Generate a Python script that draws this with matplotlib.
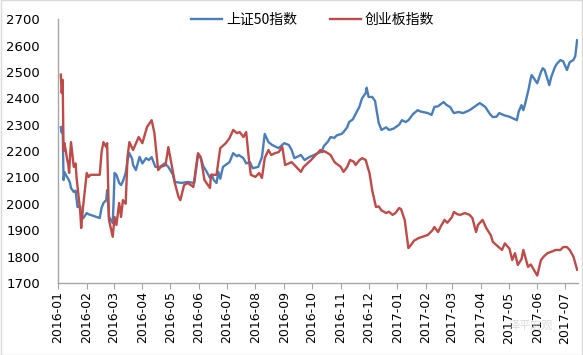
import matplotlib
matplotlib.use("Agg")
import matplotlib.pyplot as plt
import matplotlib.dates as mdates
import pandas as pd

plt.rcParams['font.family'] = ['Noto Sans CJK SC', 'DejaVu Sans']

# 上证50指数
sz50_dates = [
    "2016-01-04", "2016-01-05", "2016-01-06", "2016-01-07", "2016-01-08", "2016-01-11",
    "2016-01-12", "2016-01-14", "2016-01-15", "2016-01-18", "2016-01-20", "2016-01-22",
    "2016-01-25", "2016-01-26", "2016-01-28", "2016-02-01", "2016-02-03", "2016-02-05",
    "2016-02-15", "2016-02-17", "2016-02-19", "2016-02-22", "2016-02-23", "2016-02-25",
    "2016-02-29", "2016-03-01", "2016-03-02", "2016-03-04", "2016-03-07", "2016-03-09",
    "2016-03-11", "2016-03-14", "2016-03-16", "2016-03-18", "2016-03-21", "2016-03-22",
    "2016-03-25", "2016-03-29", "2016-04-01", "2016-04-05", "2016-04-08", "2016-04-11",
    "2016-04-15", "2016-04-20", "2016-04-25", "2016-04-29", "2016-05-04", "2016-05-06",
    "2016-05-13", "2016-05-20", "2016-05-27", "2016-05-31", "2016-06-03", "2016-06-06",
    "2016-06-08", "2016-06-13", "2016-06-15", "2016-06-17", "2016-06-20", "2016-06-22",
    "2016-06-24", "2016-06-27", "2016-07-01", "2016-07-04", "2016-07-08", "2016-07-12",
    "2016-07-14", "2016-07-19", "2016-07-22", "2016-07-26", "2016-07-29", "2016-08-04",
    "2016-08-08", "2016-08-11", "2016-08-15", "2016-08-19", "2016-08-26", "2016-09-01",
    "2016-09-06", "2016-09-09", "2016-09-12", "2016-09-19", "2016-09-23", "2016-09-28",
    "2016-10-10", "2016-10-12", "2016-10-14", "2016-10-18", "2016-10-21", "2016-10-25",
    "2016-10-28", "2016-11-02", "2016-11-04", "2016-11-08", "2016-11-10", "2016-11-14",
    "2016-11-17", "2016-11-21", "2016-11-24", "2016-11-28", "2016-11-29", "2016-12-01",
    "2016-12-05", "2016-12-08", "2016-12-12", "2016-12-15", "2016-12-20", "2016-12-23",
    "2016-12-28", "2017-01-03", "2017-01-06", "2017-01-10", "2017-01-13", "2017-01-18",
    "2017-01-23", "2017-01-26", "2017-02-03", "2017-02-07", "2017-02-10", "2017-02-14",
    "2017-02-20", "2017-02-23", "2017-02-27", "2017-03-03", "2017-03-08", "2017-03-13",
    "2017-03-20", "2017-03-24", "2017-03-31", "2017-04-06", "2017-04-11", "2017-04-14",
    "2017-04-18", "2017-04-21", "2017-04-26", "2017-05-02", "2017-05-05", "2017-05-10",
    "2017-05-12", "2017-05-15", "2017-05-17", "2017-05-19", "2017-05-23", "2017-05-25",
    "2017-05-26", "2017-06-01", "2017-06-05", "2017-06-07", "2017-06-09", "2017-06-14",
    "2017-06-16", "2017-06-20", "2017-06-22", "2017-06-26", "2017-06-29", "2017-07-03",
    "2017-07-06", "2017-07-10", "2017-07-12", "2017-07-14",
]
sz50_vals = [
    2290, 2270, 2295, 2090, 2120, 2100,
    2095, 2079, 2060, 2045, 2050, 1988,
    1990, 1950, 1945, 1965, 1960, 1958,
    1946, 1985, 2003, 2014, 2052, 1950,
    1927, 2010, 2117, 2110, 2079, 2071,
    2085, 2117, 2166, 2192, 2170, 2147,
    2128, 2178, 2153, 2173, 2166, 2177,
    2140, 2140, 2153, 2140, 2110, 2083,
    2079, 2083, 2079, 2185, 2173, 2140,
    2130, 2098, 2110, 2090, 2079, 2121,
    2095, 2140, 2150, 2158, 2192, 2180,
    2185, 2173, 2153, 2158, 2135, 2140,
    2177, 2265, 2234, 2223, 2211, 2230,
    2223, 2204, 2173, 2185, 2166, 2177,
    2196, 2204, 2220, 2235, 2253, 2250,
    2260, 2265, 2272, 2290, 2310, 2320,
    2340, 2367, 2400, 2420, 2440, 2405,
    2405, 2390, 2306, 2280, 2290, 2280,
    2285, 2300, 2317, 2310, 2317, 2340,
    2355, 2350, 2344, 2337, 2367, 2370,
    2386, 2375, 2367, 2344, 2348, 2344,
    2355, 2365, 2382, 2367, 2340, 2329,
    2330, 2344, 2336, 2330, 2325, 2317,
    2350, 2374, 2355, 2380, 2440, 2476,
    2488, 2457, 2500, 2514, 2507, 2450,
    2480, 2518, 2530, 2545, 2540, 2507,
    2537, 2545, 2560, 2620,
]

# 创业板指数
cyb_dates = [
    "2016-01-04", "2016-01-05", "2016-01-06", "2016-01-07", "2016-01-08", "2016-01-11",
    "2016-01-12", "2016-01-13", "2016-01-14", "2016-01-15", "2016-01-18", "2016-01-20",
    "2016-01-21", "2016-01-25", "2016-01-26", "2016-01-28", "2016-02-01", "2016-02-03",
    "2016-02-05", "2016-02-15", "2016-02-17", "2016-02-19", "2016-02-22", "2016-02-23",
    "2016-02-25", "2016-02-29", "2016-03-02", "2016-03-04", "2016-03-07", "2016-03-09",
    "2016-03-11", "2016-03-14", "2016-03-16", "2016-03-18", "2016-03-22", "2016-03-28",
    "2016-04-01", "2016-04-06", "2016-04-11", "2016-04-14", "2016-04-18", "2016-04-21",
    "2016-04-26", "2016-04-29", "2016-05-03", "2016-05-06", "2016-05-10", "2016-05-12",
    "2016-05-16", "2016-05-20", "2016-05-26", "2016-05-31", "2016-06-03", "2016-06-07",
    "2016-06-13", "2016-06-14", "2016-06-20", "2016-06-24", "2016-06-30", "2016-07-04",
    "2016-07-08", "2016-07-12", "2016-07-15", "2016-07-19", "2016-07-22", "2016-07-25",
    "2016-07-27", "2016-08-01", "2016-08-05", "2016-08-08", "2016-08-11", "2016-08-15",
    "2016-08-18", "2016-08-22", "2016-08-26", "2016-08-30", "2016-09-02", "2016-09-09",
    "2016-09-14", "2016-09-19", "2016-09-22", "2016-09-30", "2016-10-10", "2016-10-12",
    "2016-10-14", "2016-10-18", "2016-10-21", "2016-10-25", "2016-10-27", "2016-11-01",
    "2016-11-04", "2016-11-08", "2016-11-11", "2016-11-15", "2016-11-17", "2016-11-21",
    "2016-11-24", "2016-11-28", "2016-11-30", "2016-12-02", "2016-12-05", "2016-12-09",
    "2016-12-12", "2016-12-15", "2016-12-20", "2016-12-23", "2016-12-27", "2016-12-30",
    "2017-01-03", "2017-01-05", "2017-01-09", "2017-01-13", "2017-01-16", "2017-01-19",
    "2017-01-24", "2017-02-03", "2017-02-08", "2017-02-10", "2017-02-14", "2017-02-17",
    "2017-02-21", "2017-02-24", "2017-03-01", "2017-03-03", "2017-03-07", "2017-03-10",
    "2017-03-15", "2017-03-20", "2017-03-23", "2017-03-27", "2017-03-29", "2017-04-03",
    "2017-04-07", "2017-04-12", "2017-04-14", "2017-04-19", "2017-04-24", "2017-04-27",
    "2017-05-02", "2017-05-05", "2017-05-08", "2017-05-11", "2017-05-15", "2017-05-17",
    "2017-05-22", "2017-05-25", "2017-06-01", "2017-06-05", "2017-06-08", "2017-06-12",
    "2017-06-16", "2017-06-21", "2017-06-26", "2017-06-29", "2017-07-03", "2017-07-06",
    "2017-07-10", "2017-07-14",
]
cyb_vals = [
    2490, 2420, 2470, 2200, 2230, 2166,
    2150, 2117, 2180, 2234, 2140, 2153,
    2100, 1970, 1908, 1988, 2117, 2102,
    2110, 2110, 2196, 2234, 2215, 2230,
    1939, 1875, 1950, 1920, 2003, 1950,
    2014, 2000, 2178, 2234, 2204, 2253,
    2230, 2291, 2317, 2268, 2128, 2140,
    2147, 2215, 2140, 2079, 2026, 2014,
    2071, 2079, 2064, 2192, 2177, 2090,
    2060, 2110, 2110, 2211, 2230, 2249,
    2280, 2268, 2272, 2253, 2272, 2166,
    2110, 2102, 2117, 2098, 2173, 2204,
    2185, 2192, 2196, 2215, 2147, 2158,
    2140, 2121, 2140, 2166, 2204, 2196,
    2200, 2192, 2185, 2160, 2153, 2140,
    2121, 2140, 2166, 2160, 2147, 2165,
    2173, 2166, 2140, 2117, 2050, 1988,
    1990, 1975, 1965, 1970, 1958, 1965,
    1984, 1980, 1939, 1832, 1845, 1860,
    1870, 1882, 1900, 1912, 1893, 1915,
    1939, 1928, 1950, 1969, 1960, 1958,
    1965, 1958, 1946, 1893, 1920, 1939,
    1908, 1880, 1856, 1840, 1825, 1850,
    1830, 1787, 1813, 1768, 1790, 1825,
    1761, 1770, 1728, 1787, 1800, 1813,
    1818, 1825, 1825, 1836, 1836, 1825,
    1800, 1750,
]

yticks = [1700, 1800, 1900, 2000, 2100, 2200, 2300, 2400, 2500, 2600, 2700]

fig = plt.figure(figsize=(5.83, 3.55), dpi=100)
ax = fig.add_axes([0.0995, 0.203, 0.892, 0.743])

ax.plot(pd.to_datetime(sz50_dates), sz50_vals, color='#4a7ebb', lw=1.7, label='上证50指数')
ax.plot(pd.to_datetime(cyb_dates), cyb_vals, color='#be4b48', lw=1.7, label='创业板指数')

ax.set_ylim(1700, 2700)
ax.set_yticks(yticks)
ax.set_xlim(pd.Timestamp("2016-01-01"), pd.Timestamp("2017-07-15"))
ax.xaxis.set_major_locator(mdates.MonthLocator())
ax.xaxis.set_major_formatter(mdates.DateFormatter('%Y-%m'))

for s in ['top', 'right']:
    ax.spines[s].set_visible(False)
for s in ['left', 'bottom']:
    ax.spines[s].set_color('#a6a6a6')
    ax.spines[s].set_linewidth(1.0)

ax.tick_params(axis='x', labelsize=9, rotation=90, length=4, color='#a6a6a6', pad=2)
ax.tick_params(axis='y', labelsize=9.5, length=0, pad=13)
for lab in ax.get_xticklabels() + ax.get_yticklabels():
    lab.set_family('DejaVu Sans')

leg = ax.legend(loc='upper center', bbox_to_anchor=(0.49, 1.07), ncol=2, frameon=False,
                fontsize=10, handlelength=2.2, columnspacing=2.4, handletextpad=0.3)

# faint watermark, bottom right
fig.text(0.91, 0.075, '泽平宏观', fontsize=8, color='#d0d0d0', ha='center', alpha=0.8)

fig.patches.append(plt.Rectangle((0.001, 0.001), 0.998, 0.998, transform=fig.transFigure,
                                 fill=False, edgecolor='#d9d9d9', lw=1))

fig.savefig('out.png', dpi=100)
